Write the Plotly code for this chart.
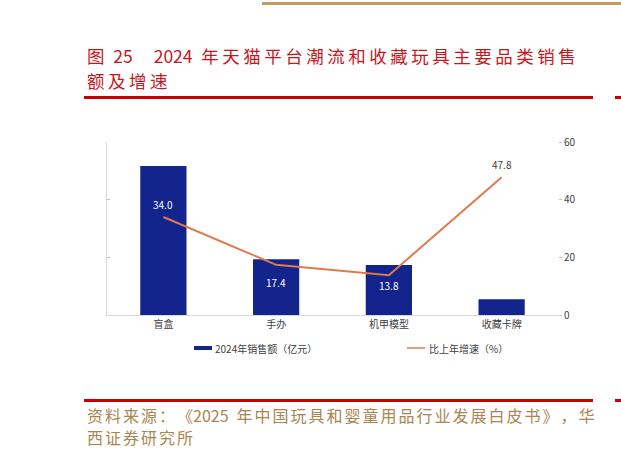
import plotly.graph_objects as go

categories = ["盲盒", "手办", "机甲模型", "收藏卡牌"]
sales_2024 = [51.7, 19.3, 17.3, 5.5]          # 2024年销售额（亿元）
growth_pct = [34.0, 17.4, 13.8, 47.8]         # 比上年增速（%）
growth_text = ["34.0", "17.4", "13.8", "47.8"]
right_ticks = [0, 20, 40, 60]

# label styling (offsets in px, colours)
label_shift = [12, -18, -10, 13]
label_color = ["#FFFFFF", "#FFFFFF", "#FFFFFF", "#404040"]

W, H = 621, 456
L, R, T, B = 107, 558, 142, 315
PW, PH = R - L, B - T

def px(x):
    return (x - L) / PW

def py(y):
    return (B - y) / PH

FONT = "Noto Sans CJK SC, Noto Sans, sans-serif"
BAR_COLOR = "#13248C"
LINE_COLOR = "#E07A4C"
TITLE_RED = "#C8161D"
SRC_COLOR = "#A8864F"
GOLD = "#C19D62"

def spaced(s, sep="\u2009"):
    return sep.join(list(s))

HS2 = "\u200a\u200a"

fig = go.Figure()
fig.add_trace(go.Bar(
    x=categories, y=sales_2024, name="2024年销售额（亿元）",
    marker=dict(color=BAR_COLOR, line=dict(width=0)), width=0.41,
    showlegend=False, yaxis="y"))
fig.add_trace(go.Scatter(
    x=categories, y=growth_pct, name="比上年增速（%）", mode="lines",
    line=dict(color=LINE_COLOR, width=2),
    showlegend=False, yaxis="y2"))

shapes = [
    dict(type="line", xref="paper", yref="paper", x0=px(262), x1=px(621), y0=py(3.5), y1=py(3.5),
         line=dict(color=GOLD, width=3)),
    dict(type="line", xref="paper", yref="paper", x0=px(84), x1=px(593), y0=py(97.5), y1=py(97.5),
         line=dict(color="#CC0000", width=3)),
    dict(type="line", xref="paper", yref="paper", x0=px(615), x1=px(621), y0=py(97.5), y1=py(97.5),
         line=dict(color="#CC0000", width=3)),
    dict(type="line", xref="paper", yref="paper", x0=px(84), x1=px(593), y0=py(400.5), y1=py(400.5),
         line=dict(color="#CC0000", width=3)),
    dict(type="line", xref="paper", yref="paper", x0=px(615), x1=px(621), y0=py(400.5), y1=py(400.5),
         line=dict(color="#CC0000", width=3)),
    # legend swatches
    dict(type="rect", xref="paper", yref="paper", x0=px(194), x1=px(212), y0=py(346), y1=py(350),
         fillcolor=BAR_COLOR, line=dict(width=0)),
    dict(type="line", xref="paper", yref="paper", x0=px(407), x1=px(425), y0=py(348), y1=py(348),
         line=dict(color=LINE_COLOR, width=1.5)),
]

title1 = "图\u200225\u3000\u20092024\u2002" + spaced("年天猫平台潮流和收藏玩具主要品类销售")
title2 = spaced("额及增速")
src1 = (spaced("资料来源：《", HS2) + "2025\u2002"
        + spaced("年中国玩具和婴童用品行业发展白皮书》，华", HS2))
src2 = spaced("西证券研究所", HS2)

annotations = [
    dict(text=title1, xref="paper", yref="paper", x=px(85), y=py(55), xanchor="left", yanchor="middle",
         showarrow=False, font=dict(family=FONT, size=17.5, color=TITLE_RED)),
    dict(text=title2, xref="paper", yref="paper", x=px(85), y=py(80), xanchor="left", yanchor="middle",
         showarrow=False, font=dict(family=FONT, size=17.5, color=TITLE_RED)),
    dict(text=src1, xref="paper", yref="paper", x=px(85), y=py(415), xanchor="left", yanchor="middle",
         showarrow=False, font=dict(family=FONT, size=16, color=SRC_COLOR)),
    dict(text=src2, xref="paper", yref="paper", x=px(85), y=py(437), xanchor="left", yanchor="middle",
         showarrow=False, font=dict(family=FONT, size=16, color=SRC_COLOR)),
    dict(text="2024年销售额（亿元）", xref="paper", yref="paper", x=px(213), y=py(348),
         xanchor="left", yanchor="middle", showarrow=False,
         font=dict(family=FONT, size=10, color="#404040")),
    dict(text="比上年增速（%）", xref="paper", yref="paper", x=px(427), y=py(348),
         xanchor="left", yanchor="middle", showarrow=False,
         font=dict(family=FONT, size=10, color="#404040")),
]
for c, v, t, s, col in zip(categories, growth_pct, growth_text, label_shift, label_color):
    annotations.append(dict(text=t, x=c, y=v, xref="x", yref="y2", yshift=s, showarrow=False,
                            xanchor="center", yanchor="middle",
                            font=dict(family=FONT, size=10, color=col)))

fig.update_layout(
    width=W, height=H,
    margin=dict(l=L, r=W - R, t=T, b=H - B, pad=0),
    paper_bgcolor="white", plot_bgcolor="white",
    font=dict(family=FONT, size=10, color="#404040"),
    showlegend=False,
    xaxis=dict(showline=True, linecolor="#D9D9D9", linewidth=1, ticks="",
               tickfont=dict(size=10, color="#404040"), showgrid=False, fixedrange=True),
    yaxis=dict(range=[0, 60], tickvals=right_ticks, showticklabels=False, ticks="inside",
               ticklen=3, tickcolor="#BFBFBF", showline=True, linecolor="#D9D9D9",
               showgrid=False, zeroline=False),
    yaxis2=dict(range=[0, 60], tickvals=right_ticks, overlaying="y", side="right",
                ticks="outside", ticklen=3, tickcolor="#BFBFBF", showline=False,
                showgrid=False, zeroline=False, tickfont=dict(size=10, color="#404040")),
    shapes=shapes, annotations=annotations,
)

fig.write_html("out.html", config={"displayModeBar": False},
               post_script="document.body.style.margin='0';")
